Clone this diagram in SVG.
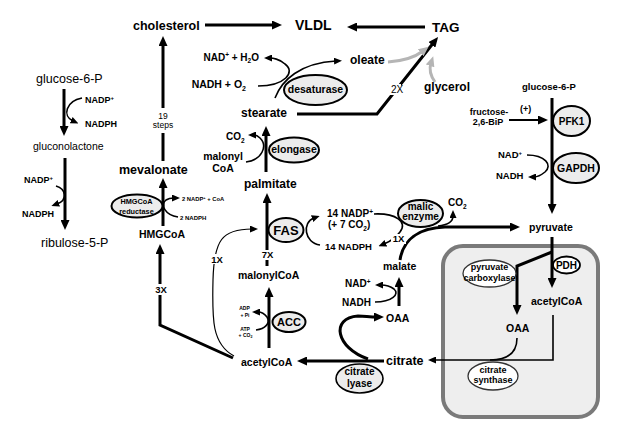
<svg xmlns="http://www.w3.org/2000/svg" width="619" height="430" viewBox="0 0 619 430">
<style>
.b{font-family:"Liberation Sans",Arial,sans-serif;font-weight:bold;fill:#000}
.r{font-family:"Liberation Sans",Arial,sans-serif;fill:#000}
.m{text-anchor:middle}
.e{text-anchor:end}
.k{stroke:#000;stroke-width:3;fill:none}
.t{stroke:#000;stroke-width:1.6;fill:none}
.g{stroke:#b5b5b5;stroke-width:3;fill:none}
.enz{fill:#ececec;stroke:#000;stroke-width:2}
.enzw{fill:#fff;stroke:#333;stroke-width:1.3}
.bg{fill:#fff}
</style>
<defs>
<marker id="ah" markerUnits="userSpaceOnUse" markerWidth="10" markerHeight="9" refX="3" refY="4.5" orient="auto" viewBox="0 0 10 9"><path d="M0,0 L10,4.5 L0,9 z" fill="#000"/></marker>
<marker id="as" markerUnits="userSpaceOnUse" markerWidth="8" markerHeight="7" refX="2" refY="3.5" orient="auto" viewBox="0 0 8 7"><path d="M0,0 L8,3.5 L0,7 z" fill="#000"/></marker>
<marker id="ag" markerUnits="userSpaceOnUse" markerWidth="10" markerHeight="9" refX="3" refY="4.5" orient="auto" viewBox="0 0 10 9"><path d="M0,0 L10,4.5 L0,9 z" fill="#b5b5b5"/></marker>
</defs>

<g id="mitochondrion">
<rect x="443" y="246" width="155" height="171" rx="20" fill="#eeeeee" stroke="#7a7a7a" stroke-width="4"/>
</g>

<g id="connectors">
<path class="k" d="M205 25 H275" marker-end="url(#ah)"/>
<path class="k" d="M425 27 H354" marker-end="url(#ah)"/>
<path class="k" d="M64 89 V129" marker-end="url(#ah)"/>
<path class="k" d="M65 158 V223" marker-end="url(#ah)"/>
<path class="t" d="M82 98 C66 101 62 116 73 121" marker-end="url(#as)"/>
<path class="t" d="M56 186 C66 189 68 200 57 204" marker-end="url(#as)"/>
<path class="k" d="M163 108 V43" marker-end="url(#ah)"/>
<path class="k" d="M163 161 V133"/>
<path class="k" d="M163 226 V185" marker-end="url(#ah)"/>
<path class="t" d="M178 217 C165 215 160 205 166 200 C169 198 172 198 174 198" marker-end="url(#as)"/>
<path class="k" d="M233 358 L160 325 V251" marker-end="url(#ah)"/>
<path class="k" d="M266 172 V133" marker-end="url(#ah)"/>
<path class="t" d="M246 162 C262 160 268 146 260 138 C258 136 256 135 254 135" marker-end="url(#as)"/>
<path class="k" d="M267 266 V200" marker-end="url(#ah)"/>
<path class="k" d="M269 348 V294" marker-end="url(#ah)"/>
<path class="t" d="M256 330 C265 329 271 323 267 317 C264 313 261 312 258 312" marker-end="url(#as)"/>
<path class="k" d="M297 114 H377 L433.7 42.5" marker-end="url(#ah)"/>
<path class="t" d="M258 86 C285 86 296 72 285 64 C280 59 272 58 270 58" marker-end="url(#as)"/>
<path class="t" d="M275 98 C282 80 300 63 336 61" marker-end="url(#as)"/>
<path class="g" d="M388 62 C402 61 414 58 423 51" marker-end="url(#ag)"/>
<path class="g" d="M435 82 C430 75 429 69 431 63" marker-end="url(#ag)"/>
<path class="t" d="M320 245 C304 243 302 222 314 218" marker-end="url(#as)"/>
<path class="t" d="M374 214 C396 213 408 222 400 232 Q394 240 384 244" marker-end="url(#as)"/>
<path stroke="#000" stroke-width="1.2" fill="none" d="M234 356 C212 344 212 320 213 280 C214 240 222 229 252 229" marker-end="url(#as)"/>
<path class="k" d="M384 361 H304" marker-end="url(#ah)"/>
<path class="k" d="M368 359 C336 348 330 318 358 316 C364 316 370 317 377 317" marker-end="url(#ah)"/>
<path class="k" d="M399 306 V284" marker-end="url(#ah)"/>
<path class="t" d="M375 302 C392 302 400 294 394 289 C390 286 386 285 381 285" marker-end="url(#as)"/>
<path class="k" d="M400 260 C403 240 418 228 445 227 H513" marker-end="url(#ah)"/>
<path class="t" d="M438 226 C448 225 453 222 453 216" marker-end="url(#as)"/>
<path class="k" d="M552 98 V207" marker-end="url(#ah)"/>
<path stroke="#000" stroke-width="2" fill="none" d="M509 120 H541" marker-end="url(#ah)"/>
<path class="t" d="M527 155 C545 155 553 165 545 172 C540 176 536 177 534 177" marker-end="url(#as)"/>
<path class="k" d="M552 237 V281" marker-end="url(#ah)"/>
<path class="k" d="M552 252 L517 266 V308" marker-end="url(#ah)"/>
<path class="t" d="M553 315 V360 H434" marker-end="url(#as)"/>
<path class="t" d="M517 338 C517 352 508 360 490 360"/>
</g>

<g id="labels">
<rect class="bg" x="385" y="84" width="16" height="11"/>
<text class="r m" x="397" y="93" font-size="10">2X</text>
<text class="r m" x="163" y="118.5" font-size="8.5">19</text>
<text class="r m" x="163" y="128" font-size="8.5">steps</text>
<rect class="bg" x="153" y="284" width="15" height="11"/>
<text class="b m" x="161" y="293" font-size="9.5">3X</text>
<rect class="bg" x="261" y="250" width="13" height="10"/>
<text class="b m" x="267.5" y="258" font-size="9.5">7X</text>
<rect class="bg" x="210" y="254" width="14" height="10"/>
<text class="b m" x="217" y="262.5" font-size="9.5">1X</text>
<rect class="bg" x="391" y="234" width="15" height="10"/>
<text class="b m" x="398.5" y="242" font-size="9.5">1X</text>
<text class="b" x="520" y="112" font-size="9">(+)</text>
</g>

<g id="cholesterol"><text class="b" x="133" y="30" font-size="12.5">cholesterol</text></g>
<g id="VLDL"><text class="b" x="295" y="30" font-size="14">VLDL</text></g>
<g id="TAG"><text class="b" x="432" y="32" font-size="13.5">TAG</text></g>
<g id="glucose6P-left"><text class="r" x="36" y="83" font-size="12.5">glucose-6-P</text></g>
<g id="nadp1"><text class="b" x="85" y="103" font-size="9">NADP<tspan dy="-3" font-size="6">+</tspan></text><text class="b" x="85" y="126.5" font-size="9">NADPH</text></g>
<g id="gluconolactone"><text class="r" x="33" y="149.5" font-size="10.5">gluconolactone</text></g>
<g id="nadp2"><text class="b" x="24" y="183" font-size="9">NADP<tspan dy="-3" font-size="6">+</tspan></text><text class="b" x="22" y="216.5" font-size="9">NADPH</text></g>
<g id="ribulose5P"><text class="r" x="41" y="246.5" font-size="12.5">ribulose-5-P</text></g>

<g id="mevalonate"><text class="b" x="119" y="174" font-size="12.5">mevalonate</text></g>
<g id="HMGCoA-reductase">
<ellipse class="enz" cx="137" cy="206" rx="25.5" ry="11.5"/>
<text class="b m" x="136.5" y="204" font-size="7.3">HMGCoA</text>
<text class="b m" x="136.5" y="213.5" font-size="7.3">reductase</text>
</g>
<g id="nadp3"><text class="b" x="182" y="201" font-size="5.8">2 NADP<tspan dy="-2" font-size="4">+</tspan><tspan dy="2"> + CoA</tspan></text><text class="b" x="180" y="220" font-size="6">2 NADPH</text></g>
<g id="HMGCoA"><text class="b" x="139" y="238" font-size="10.5">HMGCoA</text></g>

<g id="stearate"><text class="b" x="241" y="117" font-size="12">stearate</text></g>
<g id="oleate"><text class="b" x="350" y="64" font-size="12">oleate</text></g>
<g id="glycerol"><text class="b" x="424" y="90.5" font-size="12">glycerol</text></g>
<g id="nad-h2o"><text class="b e" x="259" y="60.5" font-size="10">NAD<tspan dy="-3.5" font-size="6.5">+</tspan><tspan dy="3.5"> + H</tspan><tspan dy="2.5" font-size="6.5">2</tspan><tspan dy="-2.5">O</tspan></text></g>
<g id="nadh-o2"><text class="b e" x="246" y="88" font-size="10.5">NADH + O<tspan dy="2.5" font-size="7">2</tspan></text></g>
<g id="desaturase">
<ellipse class="enz" cx="315.5" cy="90" rx="31.5" ry="15"/>
<text class="b m" x="315.5" y="93" font-size="10.5">desaturase</text>
</g>
<g id="co2-elong"><text class="b" x="226" y="140" font-size="10">CO<tspan dy="2.5" font-size="6.5">2</tspan></text></g>
<g id="malonylCoA-elong"><text class="b m" x="223" y="160" font-size="10.5">malonyl</text><text class="b m" x="223" y="172" font-size="10.5">CoA</text></g>
<g id="elongase">
<ellipse class="enz" cx="294" cy="150" rx="25" ry="12.5"/>
<text class="b m" x="294" y="152.5" font-size="10.5">elongase</text>
</g>
<g id="palmitate"><text class="b" x="244" y="188" font-size="12">palmitate</text></g>
<g id="FAS">
<ellipse class="enz" cx="286" cy="230" rx="17.5" ry="12"/>
<text class="b m" x="286" y="235" font-size="13">FAS</text>
</g>
<g id="nadp-fas">
<text class="b" x="327" y="217" font-size="10">14 NADP<tspan dy="-3.5" font-size="6.5">+</tspan></text>
<text class="b" x="328" y="228" font-size="10">(+ 7 CO<tspan dy="2.5" font-size="6.5">2</tspan><tspan dy="-2.5">)</tspan></text>
<text class="b" x="325" y="250" font-size="9.5">14 NADPH</text>
</g>
<g id="malonylCoA"><text class="b" x="238" y="278.5" font-size="10.5">malonylCoA</text></g>
<g id="atp">
<text class="b m" x="244.5" y="310" font-size="5">ADP</text>
<text class="b m" x="245" y="316.5" font-size="5">+ Pi</text>
<text class="b m" x="245" y="330.5" font-size="5">ATP</text>
<text class="b m" x="245.5" y="336.5" font-size="5">+ CO<tspan dy="1.2" font-size="3.5">2</tspan></text>
</g>
<g id="ACC">
<ellipse class="enz" cx="289" cy="322" rx="16.5" ry="10"/>
<text class="b m" x="289" y="326" font-size="11">ACC</text>
</g>
<g id="acetylCoA"><text class="b" x="241" y="366" font-size="10.5">acetylCoA</text></g>
<g id="citrate"><text class="b" x="386" y="365" font-size="12.5">citrate</text></g>
<g id="citrate-lyase">
<ellipse cx="359.5" cy="378.5" rx="23.5" ry="14.5" fill="#ececec" stroke="#000" stroke-width="1.6"/>
<text class="b m" x="359.5" y="375" font-size="10">citrate</text>
<text class="b m" x="359.5" y="386.5" font-size="10">lyase</text>
</g>
<g id="OAA"><text class="b" x="386" y="322" font-size="10.5">OAA</text></g>
<g id="nad-malate"><text class="b" x="345" y="287" font-size="10">NAD<tspan dy="-3.5" font-size="6.5">+</tspan></text><text class="b" x="342" y="306" font-size="10">NADH</text></g>
<g id="malate"><text class="b" x="383" y="270" font-size="10.5">malate</text></g>
<g id="malic-enzyme">
<ellipse class="enz" cx="420.5" cy="213.5" rx="22.5" ry="13.5"/>
<text class="b m" x="420.5" y="210" font-size="10">malic</text>
<text class="b m" x="420.5" y="220" font-size="10">enzyme</text>
</g>
<g id="co2-malic"><text class="b" x="448" y="206" font-size="10">CO<tspan dy="2.5" font-size="6.5">2</tspan></text></g>

<g id="glucose6P-right"><text class="b" x="522" y="89.5" font-size="9.5">glucose-6-P</text></g>
<g id="fructose26BiP"><text class="b m" x="489" y="115" font-size="9">fructose-</text><text class="b m" x="488" y="125" font-size="9">2,6-BiP</text></g>
<g id="PFK1">
<ellipse class="enz" cx="571.5" cy="121" rx="18.5" ry="15"/>
<text class="b m" x="571.5" y="124.5" font-size="10">PFK1</text>
</g>
<g id="nad-gapdh"><text class="b" x="498" y="158" font-size="9.5">NAD<tspan dy="-3.5" font-size="6">+</tspan></text><text class="b" x="496" y="179" font-size="9.5">NADH</text></g>
<g id="GAPDH">
<ellipse class="enz" cx="576" cy="168" rx="23" ry="15"/>
<text class="b m" x="576" y="172" font-size="10.5">GAPDH</text>
</g>
<g id="pyruvate"><text class="b" x="529" y="230.5" font-size="10.5">pyruvate</text></g>
<g id="PDH">
<ellipse cx="566.5" cy="265" rx="13.5" ry="8.5" fill="#fff" stroke="#000" stroke-width="1.8"/>
<text class="b m" x="566.5" y="268.5" font-size="10">PDH</text>
</g>
<g id="pyruvate-carboxylase">
<ellipse class="enzw" cx="489.5" cy="273.5" rx="26.5" ry="13.5"/>
<text class="b m" x="489.5" y="269.5" font-size="9">pyruvate</text>
<text class="b m" x="489.5" y="280.5" font-size="9">carboxylase</text>
</g>
<g id="acetylCoA-mito"><text class="b" x="531" y="305" font-size="10.5">acetylCoA</text></g>
<g id="OAA-mito"><text class="b" x="506" y="332" font-size="10.5">OAA</text></g>
<g id="citrate-synthase">
<ellipse class="enzw" cx="493" cy="376" rx="25" ry="14"/>
<text class="b m" x="493" y="373" font-size="9">citrate</text>
<text class="b m" x="493" y="383" font-size="9">synthase</text>
</g>
</svg>
